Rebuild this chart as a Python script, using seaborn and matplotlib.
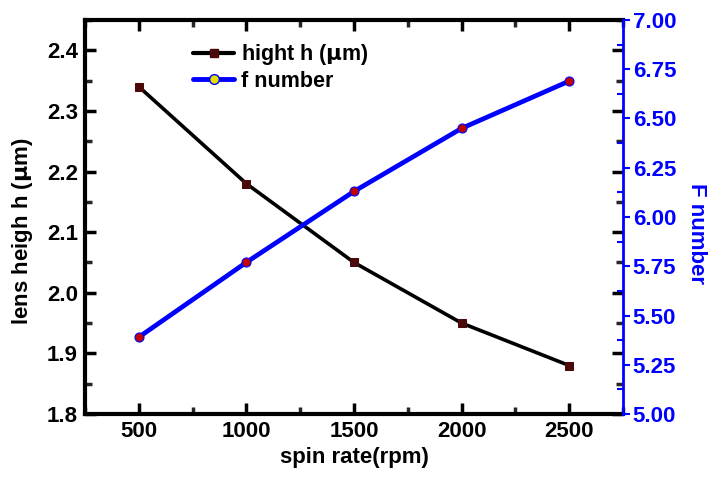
import numpy as np
import pandas as pd
import matplotlib
matplotlib.use("Agg")
import matplotlib.pyplot as plt
from matplotlib.lines import Line2D
from matplotlib.ticker import MultipleLocator, FormatStrFormatter
import seaborn as sns

# data
spin_rate = [500, 1000, 1500, 2000, 2500]
hight_h = [2.34, 2.18, 2.05, 1.95, 1.88]
f_number = [5.39, 5.77, 6.13, 6.45, 6.69]

df = pd.DataFrame({"spin": spin_rate, "h": hight_h, "f": f_number})

sns.set_theme(style="ticks")
plt.rcParams['font.family'] = ['Liberation Sans', 'DejaVu Sans']
plt.rcParams['font.weight'] = 'bold'
plt.rcParams['mathtext.default'] = 'bf'
plt.rcParams['text.color'] = 'black'
plt.rcParams['axes.labelcolor'] = 'black'

FS = 16
BLUE = "#0000ff"

fig = plt.figure(figsize=(7.12, 4.88), dpi=100)
ax = fig.add_axes([85/712, 1 - 414/488, (623-85)/712, (414-20)/488])
ax2 = ax.twinx()

sns.lineplot(data=df, x="spin", y="h", ax=ax, color="black", lw=2.6,
             marker="s", markersize=6, markerfacecolor="#4a0a0a",
             markeredgecolor="#4a0a0a", zorder=3)
sns.lineplot(data=df, x="spin", y="f", ax=ax2, color=BLUE, lw=3.4,
             marker="o", markersize=6.5, markerfacecolor="#c00000",
             markeredgecolor=BLUE, markeredgewidth=0.8, zorder=3)

ax.set_xlim(250, 2750)
ax.set_ylim(1.8, 2.45)
ax2.set_ylim(5.0, 7.0)

ax.xaxis.set_major_locator(MultipleLocator(500))
ax.xaxis.set_minor_locator(MultipleLocator(250))
ax.yaxis.set_major_locator(MultipleLocator(0.1))
ax.yaxis.set_minor_locator(MultipleLocator(0.05))
ax2.yaxis.set_major_locator(MultipleLocator(0.25))
ax2.yaxis.set_minor_locator(MultipleLocator(0.125))
ax.yaxis.set_major_formatter(FormatStrFormatter("%.1f"))
ax2.yaxis.set_major_formatter(FormatStrFormatter("%.2f"))

# black ticks point inwards on all four sides
ax.tick_params(which="major", direction="in", length=8, width=2.5,
               top=True, right=True, labelsize=FS, colors="black", pad=5)
ax.tick_params(which="minor", direction="in", length=5, width=2.5,
               top=True, right=True)

# blue right scale
ax2.tick_params(axis="y", which="major", direction="out", length=5, width=1.5,
                colors=BLUE, labelsize=FS, pad=2)
ax2.tick_params(axis="y", which="minor", direction="in", length=4, width=1.5,
                colors=BLUE)

for s in ["left", "bottom", "top"]:
    ax.spines[s].set_linewidth(3)
    ax.spines[s].set_color("black")
ax.spines["right"].set_visible(False)
for s in ["left", "bottom", "top"]:
    ax2.spines[s].set_visible(False)
ax2.spines["right"].set_color(BLUE)
ax2.spines["right"].set_linewidth(2)

ax.set_xlabel("spin rate(rpm)", fontsize=FS, fontweight="bold", labelpad=4)
ax.set_ylabel("lens heigh h ($\\mu$m)", fontsize=FS, fontweight="bold", labelpad=9)
ax2.set_ylabel("F number", fontsize=FS, fontweight="bold", color=BLUE,
               rotation=-90, labelpad=22)
ax.yaxis.label.set_y(0.464)
ax2.yaxis.label.set_y(0.459)

handles = [
    Line2D([], [], color="black", lw=3, marker="s", markersize=6,
           markerfacecolor="#4a0a0a", markeredgecolor="#4a0a0a"),
    Line2D([], [], color=BLUE, lw=3.5, marker="o", markersize=7,
           markerfacecolor="#e0e000", markeredgecolor=BLUE),
]
leg = ax.legend(handles, ["hight h ($\\mu$m)", "f number"], loc="upper left",
                bbox_to_anchor=(0.185, 0.965), frameon=False, fontsize=15.5,
                handlelength=1.9, handletextpad=0.3, labelspacing=0.15,
                borderaxespad=0)
for t in leg.get_texts():
    t.set_fontweight("bold")
    t.set_color("black")

fig.savefig("out.png", dpi=100)
